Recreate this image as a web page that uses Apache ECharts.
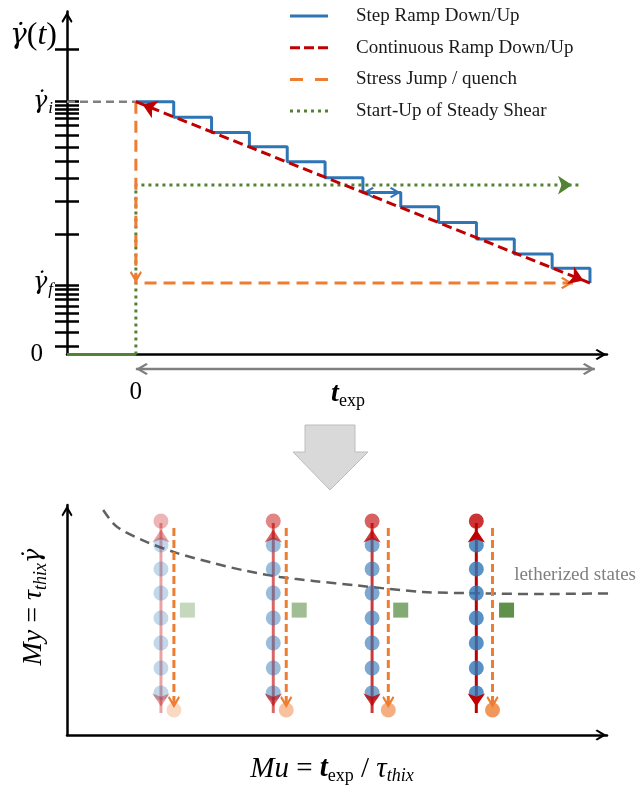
<!DOCTYPE html>
<html>
<head>
<meta charset="utf-8">
<title>Shear history protocols</title>
<script src="https://cdn.jsdelivr.net/npm/echarts@6/dist/echarts.min.js"></script>
<style>
  html, body { margin: 0; padding: 0; background: #fff; }
  #chart { width: 637px; height: 787px; }
</style>
</head>
<body>
<div id="chart"></div>
<script>
const SERIF = '"Liberation Serif", "Times New Roman", serif';
const DOT_FONT = '"DejaVu Serif", serif';
const GDOT = '\u03B3\u0307';

// top panel: imposed shear rate vs time (time in units of one ramp step)
const stepTimes = [0, 1, 2, 3, 4, 5, 6, 7, 8, 9, 10, 11, 12];
const stepRates = [16.8, 15.76, 14.76, 13.81, 12.81, 11.75, 10.76, 9.82, 8.78, 7.67, 6.68, 5.73, 4.75];
const rateInitial = 16.8;
const rateFinal = 4.75;
const rateStartUp = 11.26;
const rampEnd = 12;
const quenchEnd = 11.55;
const startUpEnd = 11.71;
const texpEnd = 12.13;
const probeStep = 6; // the step drawn as a double arrow
const rateTicks = [20.28, 16.8, 16.58, 16.31, 16.05, 15.71, 15.25, 14.58, 13.79, 12.86, 11.73,
    10.17, 8.01, 4.62, 4.35, 4.02, 3.69, 3.22, 2.76, 2.23, 1.5, 0.56];
const rateLabels = [0, rateFinal, rateInitial];
const tMin = -1.82, tMax = 12.45, rateMax = 22.8;

// bottom panel: Mu / My map
const muCircleX = [1.74, 3.82, 5.65, 7.58];
const muQuenchX = [1.98, 4.06, 5.95, 7.88];
const muSquareX = [2.23, 4.30, 6.18, 8.14];
const columnAlpha = [0.36, 0.6, 0.78, 1];
const rampStatesY = [8.26, 7.22, 6.17, 5.09, 4.0, 2.91, 1.83];
const highStateY = 9.3;
const quenchStateY = 1.09;
const steadyStateY = 5.43;
const rampArrowY = [0.96, 9.22];
const quenchArrowY = [9.0, 1.17];
const letherX = [0.67, 0.93, 1.48, 2.04, 2.70, 3.33, 3.94, 4.56, 5.37, 6.59, 7.65, 8.76, 10.48];
const letherY = [9.78, 9.04, 8.39, 7.91, 7.48, 7.13, 6.87, 6.70, 6.50, 6.22, 6.16, 6.13, 6.17];

const BLUE = '#2e75b6';
const RED = '#c00000';
const ORANGE = '#ed7d31';
const GREEN = '#548235';
const CHEVRON = 'path://M5,0L10,8.6L8.8,10L5,3.9L1.2,10L0,8.6Z';

function rgba(rgb, a) {
    return 'rgba(' + rgb.join(',') + ',' + a + ')';
}

// legend icon made of short bars: [start, end] pairs along a 38px line
function barIcon(bars) {
    return 'path://' + bars.map((b) => 'M' + b[0] + ',0L' + b[1] + ',0L' + b[1] + ',3L' + b[0] + ',3Z').join(' ');
}

// arrow heads only (the line itself is drawn by the series)
function arrowHeads(segments, color, size, symbols) {
    return {
        silent: true,
        animation: false,
        symbol: symbols,
        symbolSize: size,
        symbolOffset: [[0, '50%'], [0, '50%']],
        label: { show: false },
        emphasis: { disabled: true },
        lineStyle: { color: color, width: 0, type: 'solid' },
        data: segments.map((s) => [{ coord: s[0] }, { coord: s[1] }]),
    };
}

function arrowAxisLine(width) {
    return {
        show: true,
        onZero: false,
        symbol: ['none', CHEVRON],
        symbolSize: [11, 12],
        symbolOffset: [0, -6],
        lineStyle: { color: '#000', width: width },
    };
}

const series = [
    // gray guide from axis to the start of the ramp
    {
        type: 'line', xAxisIndex: 0, yAxisIndex: 0, symbol: 'none', z: 2,
        data: [[tMin, rateInitial], [0, rateInitial]],
        lineStyle: { color: '#808080', width: 2.5, type: [8, 5] },
    },
    // zero rate before start-up
    {
        type: 'line', xAxisIndex: 0, yAxisIndex: 0, symbol: 'none', z: 6,
        data: [[tMin, 0], [0, 0]],
        lineStyle: { color: GREEN, width: 3 },
    },
    {
        name: 'Start-Up of Steady Shear',
        type: 'line', xAxisIndex: 0, yAxisIndex: 0, symbol: 'none', z: 3,
        data: [[0, 0], [0, rateStartUp], [startUpEnd, rateStartUp]],
        itemStyle: { color: GREEN },
        lineStyle: { color: GREEN, width: 3, type: [3, 4] },
        markLine: arrowHeads([[[0, rateStartUp], [startUpEnd, rateStartUp]]], GREEN, 14, ['none', 'arrow']),
    },
    {
        name: 'Stress Jump / quench',
        type: 'line', xAxisIndex: 0, yAxisIndex: 0, symbol: 'none', z: 4,
        data: [[0, rateInitial], [0, rateFinal], [quenchEnd, rateFinal]],
        itemStyle: { color: ORANGE },
        lineStyle: { color: ORANGE, width: 3, type: [12, 7] },
        markLine: arrowHeads([
            [[0, rateInitial], [0, rateFinal]],
            [[0, rateFinal], [quenchEnd, rateFinal]],
        ], ORANGE, 12, ['none', CHEVRON]),
    },
    {
        name: 'Step Ramp Down/Up',
        type: 'line', xAxisIndex: 0, yAxisIndex: 0, symbol: 'none', step: 'end', z: 4,
        data: stepTimes.map((t, i) => [t, stepRates[i]]),
        itemStyle: { color: BLUE },
        lineStyle: { color: BLUE, width: 3 },
        markLine: arrowHeads([
            [[stepTimes[probeStep], stepRates[probeStep]], [stepTimes[probeStep + 1], stepRates[probeStep]]],
        ], BLUE, 11, [CHEVRON, CHEVRON]),
    },
    {
        name: 'Continuous Ramp Down/Up',
        type: 'line', xAxisIndex: 0, yAxisIndex: 0, symbol: 'none', z: 5,
        data: [[0, rateInitial], [rampEnd, rateFinal]],
        itemStyle: { color: RED },
        lineStyle: { color: RED, width: 3, type: [10, 5] },
        markLine: arrowHeads([[[0, rateInitial], [rampEnd, rateFinal]]], RED, 14, ['arrow', 'arrow']),
    },
    // experiment duration arrow under the time axis
    {
        type: 'line', xAxisIndex: 2, yAxisIndex: 2, symbol: 'none',
        data: [[0, 0.5], [texpEnd, 0.5]],
        lineStyle: { color: '#7f7f7f', width: 2.5 },
        markLine: arrowHeads([[[0, 0.5], [texpEnd, 0.5]]], '#7f7f7f', 12, [CHEVRON, CHEVRON]),
    },
    // bottom: letherized states boundary
    {
        type: 'line', xAxisIndex: 1, yAxisIndex: 3, symbol: 'none', smooth: 0.3, clip: false, z: 1,
        data: letherX.map((x, i) => [x, letherY[i]]),
        lineStyle: { color: '#606060', width: 2.5, type: [10, 6] },
    },
];

muCircleX.forEach((cx, c) => {
    const a = columnAlpha[c];
    const qx = muQuenchX[c];
    series.push(
        {
            type: 'line', xAxisIndex: 1, yAxisIndex: 3, symbol: 'none', z: 2,
            data: [[cx, rampArrowY[0]], [cx, rampArrowY[1]]],
            lineStyle: { color: rgba([192, 0, 0], a), width: 3 },
            markLine: arrowHeads([[[cx, rampArrowY[1]], [cx, rampArrowY[0]]]], rgba([192, 0, 0], a), 13, ['arrow', 'arrow']),
        },
        {
            type: 'line', xAxisIndex: 1, yAxisIndex: 3, symbol: 'none', z: 2,
            data: [[qx, quenchArrowY[0]], [qx, quenchArrowY[1]]],
            lineStyle: { color: ORANGE, width: 3, type: [8, 4] },
            markLine: arrowHeads([[[qx, quenchArrowY[0]], [qx, quenchArrowY[1]]]], ORANGE, 12, ['none', CHEVRON]),
        },
        {
            type: 'scatter', xAxisIndex: 1, yAxisIndex: 3, symbolSize: 15, z: 3,
            data: rampStatesY.map((y) => [cx, y]),
            itemStyle: { color: rgba([46, 117, 182], a) },
        },
        {
            type: 'scatter', xAxisIndex: 1, yAxisIndex: 3, symbolSize: 15, z: 3,
            data: [[cx, highStateY]],
            itemStyle: { color: rgba([192, 0, 0], a) },
        },
        {
            type: 'scatter', xAxisIndex: 1, yAxisIndex: 3, symbolSize: 15, z: 3,
            data: [[qx, quenchStateY]],
            itemStyle: { color: rgba([237, 125, 49], a) },
        },
        {
            type: 'scatter', xAxisIndex: 1, yAxisIndex: 3, symbol: 'rect', symbolSize: 15, z: 3,
            data: [[muSquareX[c], steadyStateY]],
            itemStyle: { color: rgba([56, 118, 29], a) },
        }
    );
});

const gammaStyle = { fontFamily: DOT_FONT, fontSize: 24, fontStyle: 'italic', color: '#000' };

const option = {
    animation: false,
    backgroundColor: '#fff',
    textStyle: { fontFamily: SERIF },
    legend: {
        left: 285,
        top: 1.5,
        orient: 'vertical',
        itemWidth: 38,
        itemHeight: 19,
        itemGap: 12.7,
        selectedMode: false,
        data: [
            { name: 'Step Ramp Down/Up', icon: barIcon([[0, 38]]) },
            { name: 'Continuous Ramp Down/Up', icon: barIcon([[0, 10], [14, 24], [28, 38]]) },
            { name: 'Stress Jump / quench', icon: barIcon([[0, 13], [25, 38]]) },
            { name: 'Start-Up of Steady Shear', icon: barIcon([[0, 3], [7, 10], [14, 17], [21, 24], [28, 31], [35, 38]]) },
        ],
        textStyle: { fontFamily: SERIF, fontSize: 19, color: '#1a1a1a', lineHeight: 19, padding: [0, 0, 0, 23] },
    },
    grid: [
        { left: 67, right: 30, top: 11.4, bottom: 432.5, outerBoundsMode: 'none' },
        { left: 67, right: 30, top: 505, bottom: 52, outerBoundsMode: 'none' },
        { left: 67, right: 30, top: 362, height: 14, outerBoundsMode: 'none' },
    ],
    xAxis: [
        {
            gridIndex: 0, type: 'value', min: tMin, max: tMax,
            axisLine: arrowAxisLine(2.5),
            axisTick: { show: false }, axisLabel: { show: false }, splitLine: { show: false },
        },
        {
            gridIndex: 1, type: 'value', min: 0, max: 10,
            axisLine: arrowAxisLine(2.5),
            axisTick: { show: false }, axisLabel: { show: false }, splitLine: { show: false },
            name: '{m|Mu}{u| = }{t|t}{e|exp}{u| / }{m|\u03C4}{s|thix}',
            nameLocation: 'middle', nameGap: 18, nameMoveOverlap: false,
            nameTextStyle: {
                padding: [0, 10, 0, 0],
                rich: {
                    m: { fontFamily: SERIF, fontSize: 29, fontStyle: 'italic', color: '#000' },
                    u: { fontFamily: SERIF, fontSize: 29, color: '#000' },
                    t: { fontFamily: SERIF, fontSize: 29, fontStyle: 'italic', fontWeight: 'bold', color: '#000' },
                    e: { fontFamily: SERIF, fontSize: 18, color: '#000', padding: [14, 0, 0, 0] },
                    s: { fontFamily: SERIF, fontSize: 18, fontStyle: 'italic', color: '#000', padding: [14, 0, 0, 0] },
                },
            },
        },
        {
            gridIndex: 2, type: 'value', min: tMin, max: tMax,
            axisLine: { show: false, onZero: false }, axisTick: { show: false }, splitLine: { show: false },
            axisLabel: { customValues: [0], margin: 4, fontFamily: SERIF, fontSize: 25, color: '#000' },
            name: '{t|t}{e|exp}',
            nameLocation: 'middle', nameGap: 2, nameMoveOverlap: false,
            nameTextStyle: {
                padding: [0, 0, 0, 22],
                rich: {
                    t: { fontFamily: SERIF, fontSize: 28, fontStyle: 'italic', fontWeight: 'bold', color: '#000' },
                    e: { fontFamily: SERIF, fontSize: 18, color: '#000', padding: [14, 0, 0, 0] },
                },
            },
        },
    ],
    yAxis: [
        {
            gridIndex: 0, type: 'value', min: 0, max: rateMax, position: 'left',
            axisLine: arrowAxisLine(2.5),
            axisTick: { show: true, customValues: rateTicks, length: 12, lineStyle: { color: '#000', width: 2.5 } },
            splitLine: { show: false },
            axisLabel: {
                customValues: rateLabels,
                margin: 14,
                formatter: function (v) {
                    if (v === 0) return '{zero|0}';
                    return '{g|' + GDOT + '}{sub|' + (Math.abs(v - rateInitial) < 1e-6 ? 'i' : 'f') + '}';
                },
                rich: {
                    zero: { fontFamily: SERIF, fontSize: 25, color: '#000', padding: [0, 10, 0, 0] },
                    g: gammaStyle,
                    sub: { fontFamily: SERIF, fontSize: 17, fontStyle: 'italic', color: '#000', padding: [14, 0, 0, 1] },
                },
            },
            name: '{g|' + GDOT + '}{u|(}{t|t}{u|)}',
            nameLocation: 'end', nameGap: -24, nameMoveOverlap: false,
            nameTextStyle: {
                align: 'right', verticalAlign: 'middle', padding: [0, 10, 0, 0],
                rich: {
                    g: { fontFamily: DOT_FONT, fontSize: 28, fontStyle: 'italic', color: '#000' },
                    t: { fontFamily: SERIF, fontSize: 32, fontStyle: 'italic', color: '#000' },
                    u: { fontFamily: SERIF, fontSize: 32, color: '#000' },
                },
            },
        },
        {
            gridIndex: 0, type: 'value', min: 0, max: rateMax, position: 'left',
            axisLine: { show: false, onZero: false },
            axisTick: { show: true, inside: true, customValues: rateTicks, length: 12, lineStyle: { color: '#000', width: 2.5 } },
            axisLabel: { show: false }, splitLine: { show: false },
        },
        {
            gridIndex: 2, type: 'value', min: 0, max: 1, show: false,
        },
        {
            gridIndex: 1, type: 'value', min: 0, max: 10,
            axisLine: arrowAxisLine(2.5),
            axisTick: { show: false }, axisLabel: { show: false }, splitLine: { show: false },
            name: '{m|My}{u| = }{m|\u03C4}{s|thix}{g|' + GDOT + '}',
            nameLocation: 'middle', nameGap: 17, nameMoveOverlap: false,
            nameTextStyle: {
                padding: [0, 0, 0, 26],
                rich: {
                    m: { fontFamily: SERIF, fontSize: 28, fontStyle: 'italic', color: '#000' },
                    u: { fontFamily: SERIF, fontSize: 28, color: '#000' },
                    s: { fontFamily: SERIF, fontSize: 18, fontStyle: 'italic', color: '#000', padding: [14, 0, 0, 0] },
                    g: gammaStyle,
                },
            },
        },
    ],
    graphic: [
        {
            type: 'polygon', silent: true,
            shape: { points: [[305, 425], [355, 425], [355, 452], [368, 452], [330, 490], [293, 452], [305, 452]] },
            style: { fill: '#d9d9d9', stroke: '#bdbdbd', lineWidth: 1 },
        },
        {
            type: 'text', silent: true, x: 636, y: 575,
            style: {
                text: 'letherized states', fill: '#7f7f7f', font: '19px ' + SERIF,
                align: 'right', verticalAlign: 'middle', textAlign: 'right', textVerticalAlign: 'middle',
            },
        },
    ],
    series: series,
};

const chart = echarts.init(document.getElementById('chart'));
chart.setOption(option);
</script>
</body>
</html>
